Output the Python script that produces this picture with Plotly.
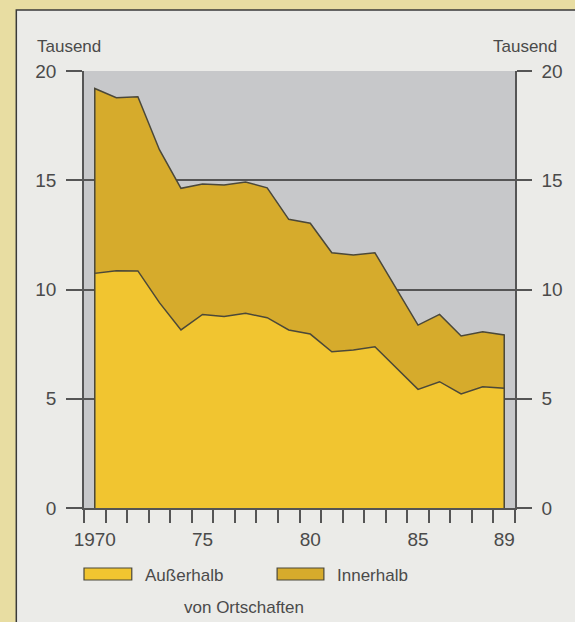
import plotly.graph_objects as go

# ---- data (Tausend) ----
years = list(range(1970, 1990))
ausserhalb = [10.74, 10.86, 10.85, 9.40, 8.15, 8.86, 8.76, 8.91, 8.71, 8.15,
              7.96, 7.15, 7.23, 7.38, 6.39, 5.43, 5.78, 5.22, 5.55, 5.48]
innerhalb = [8.46, 7.92, 7.97, 7.00, 6.48, 5.97, 6.02, 6.01, 5.94, 5.06,
             5.07, 4.53, 4.35, 4.30, 3.61, 2.94, 3.08, 2.65, 2.52, 2.44]
x_tick_labels = ["1970", "75", "80", "85", "89"]
x_tick_years = [1970, 1975, 1980, 1985, 1989]
y_ticks = [0, 5, 10, 15, 20]

total = [a + i for a, i in zip(ausserhalb, innerhalb)]

# ---- styles ----
W, H = 575, 622
L, R, T, B = 84, 517, 71, 508
PAPER = "#e8dda2"
PANEL = "#ebebe8"
PLOTGRAY = "#c7c8ca"
YELLOW = "#f1c530"
GOLD = "#d6ab2c"
EDGE = "#4b4839"
AXC = "#555555"
TXT = "#4a4a4a"
FONT = "Liberation Sans"

def px(xp):
    return (xp - L) / (R - L)

def py(yp):
    return (B - yp) / (B - T)

fig = go.Figure()

poly_x = [years[0]] + years + [years[-1]]
fig.add_trace(go.Scatter(
    x=poly_x, y=[0] + total + [0], fill="toself", fillcolor=GOLD,
    mode="lines", line=dict(color=EDGE, width=1.5), name="Innerhalb",
    showlegend=False, hoverinfo="skip"))
fig.add_trace(go.Scatter(
    x=poly_x, y=[0] + ausserhalb + [0], fill="toself", fillcolor=YELLOW,
    mode="lines", line=dict(color=EDGE, width=1.5), name="Außerhalb",
    showlegend=False, hoverinfo="skip"))
# helper trace for right axis
fig.add_trace(go.Scatter(x=[years[0]], y=[0], yaxis="y2", mode="lines",
                         line=dict(width=0), showlegend=False, hoverinfo="skip"))

shapes = [
    # panel
    dict(type="rect", xref="paper", yref="paper", x0=px(16), x1=px(700),
         y0=py(800), y1=py(10), fillcolor=PANEL,
         line=dict(color="#3a3a3a", width=1.5), layer="below"),
    # gray plot area
    dict(type="rect", xref="paper", yref="paper", x0=0, x1=1, y0=0, y1=1,
         fillcolor=PLOTGRAY, line=dict(width=0), layer="below"),
    # legend keys
    dict(type="rect", xref="paper", yref="paper", x0=px(84), x1=px(132),
         y0=py(580), y1=py(568), fillcolor=YELLOW,
         line=dict(color=EDGE, width=1.2)),
    dict(type="rect", xref="paper", yref="paper", x0=px(278), x1=px(325),
         y0=py(580), y1=py(568), fillcolor=GOLD,
         line=dict(color=EDGE, width=1.2)),
]

annotations = [
    dict(text="Tausend", xref="paper", yref="paper", x=px(35), y=py(47),
         xanchor="left", yanchor="middle", showarrow=False,
         font=dict(family=FONT, size=17, color=TXT)),
    dict(text="Tausend", xref="paper", yref="paper", x=px(561), y=py(47),
         xanchor="right", yanchor="middle", showarrow=False,
         font=dict(family=FONT, size=17, color=TXT)),
    dict(text="Außerhalb", xref="paper", yref="paper", x=px(143), y=py(575),
         xanchor="left", yanchor="middle", showarrow=False,
         font=dict(family=FONT, size=17, color=TXT)),
    dict(text="Innerhalb", xref="paper", yref="paper", x=px(336), y=py(575),
         xanchor="left", yanchor="middle", showarrow=False,
         font=dict(family=FONT, size=17, color=TXT)),
    dict(text="von Ortschaften", xref="paper", yref="paper", x=px(245), y=py(607),
         xanchor="center", yanchor="middle", showarrow=False,
         font=dict(family=FONT, size=17, color=TXT)),
]

fig.update_layout(
    width=W, height=H,
    margin=dict(l=L, r=W - R, t=T, b=H - B, pad=0),
    paper_bgcolor=PAPER, plot_bgcolor="rgba(0,0,0,0)",
    showlegend=False,
    shapes=shapes, annotations=annotations,
    xaxis=dict(
        range=[1969.5, 1989.5], showgrid=False, zeroline=False,
        tickmode="array", tickvals=x_tick_years, ticktext=x_tick_labels,
        ticks="", ticklabelstandoff=13,
        tickfont=dict(family=FONT, size=19, color=TXT),
        showline=True, linecolor=AXC, linewidth=1.5,
        minor=dict(tickmode="array",
                   tickvals=[y - 0.5 for y in years] + [years[-1] + 0.5],
                   ticks="outside", ticklen=13, tickwidth=1.5, tickcolor=AXC,
                   showgrid=False),
        fixedrange=True,
    ),
    yaxis=dict(
        range=[0, 20], tickmode="array", tickvals=y_ticks,
        ticks="outside", ticklen=16, tickwidth=1.5, tickcolor=AXC,
        showgrid=True, gridcolor=AXC, gridwidth=1.5, zeroline=False,
        showline=True, linecolor=AXC, linewidth=1.5,
        tickfont=dict(family=FONT, size=19, color=TXT), ticklabelstandoff=6,
        fixedrange=True,
    ),
    yaxis2=dict(
        range=[0, 20], overlaying="y", side="right", tickmode="array",
        tickvals=y_ticks, ticks="outside", ticklen=15, tickwidth=1.5,
        tickcolor=AXC, showgrid=False, zeroline=False,
        showline=True, linecolor=AXC, linewidth=1.5,
        tickfont=dict(family=FONT, size=19, color=TXT), ticklabelstandoff=6,
        fixedrange=True,
    ),
)

fig.write_html("out.html", config={"displayModeBar": False},
               post_script="document.body.style.margin='0';document.body.style.overflow='hidden';")
